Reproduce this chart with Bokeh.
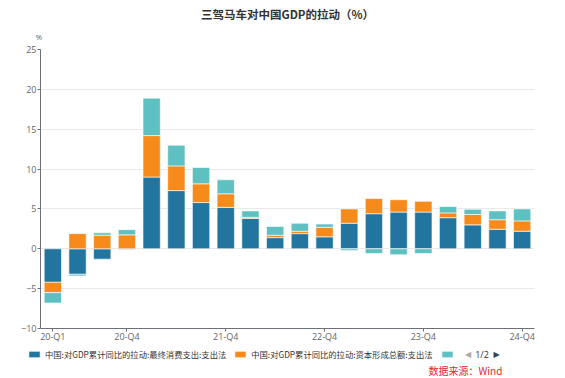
import numpy as np
from bokeh.plotting import figure
from bokeh.layouts import column
from bokeh.models import (Range1d, FixedTicker, Legend, LegendItem, Title, Label)
from bokeh.embed import file_html
from bokeh.resources import INLINE

quarters = ["20-Q1", "20-Q2", "20-Q3", "20-Q4",
            "21-Q1", "21-Q2", "21-Q3", "21-Q4",
            "22-Q1", "22-Q2", "22-Q3", "22-Q4",
            "23-Q1", "23-Q2", "23-Q3", "23-Q4",
            "24-Q1", "24-Q2", "24-Q3", "24-Q4"]
consumption = [-4.2, -3.2, -1.3, -0.1, 9.0, 7.3, 5.8, 5.2, 3.8, 1.4,
               1.9, 1.5, 3.2, 4.4, 4.6, 4.6, 3.9, 3.0, 2.45, 2.2]
capital = [-1.3, 1.9, 1.7, 1.75, 5.2, 3.1, 2.35, 1.7, 0.15, 0.3,
           0.3, 1.2, 1.8, 1.9, 1.55, 1.35, 0.6, 1.3, 1.2, 1.3]
net_exports = [-1.3, -0.2, 0.3, 0.65, 4.7, 2.6, 2.05, 1.75, 0.8, 1.1,
               1.0, 0.4, -0.2, -0.6, -0.75, -0.6, 0.8, 0.65, 1.1, 1.5]
series_names = ["中国:对GDP累计同比的拉动:最终消费支出:支出法",
                "中国:对GDP累计同比的拉动:资本形成总额:支出法",
                " "]
tick_labels = ["20-Q1", "20-Q4", "21-Q4", "22-Q4", "23-Q4", "24-Q4"]
y_ticks = [-10, -5, 0, 5, 10, 15, 20, 25]
colors = ["#22759f", "#f68a1a", "#5ec0c0"]
title_text = "三驾马车对中国GDP的拉动（%）"
unit_text = "%"
source_text = "数据来源：Wind"
pager_text = ["◀", "1/2", "▶"]

CJK = "Noto Sans CJK SC"
W = 565
MAIN_H = 345
LEG_H = 33

p = figure(width=W, height=MAIN_H, output_backend="svg", toolbar_location=None,
           x_range=Range1d(-0.5, len(quarters) - 0.5), y_range=Range1d(-10, 25),
           min_border_left=40, min_border_right=31, min_border_top=49,
           min_border_bottom=16)
p.frame_align = False
p.outline_line_color = None
p.background_fill_color = "white"
p.border_fill_color = "white"

x = np.arange(len(quarters))
pos_base = np.zeros(len(quarters))
neg_base = np.zeros(len(quarters))
for vals, col in zip([consumption, capital, net_exports], colors):
    v = np.array(vals, dtype=float)
    bottom = np.where(v >= 0, pos_base, neg_base)
    top = bottom + v
    pos_base = np.where(v >= 0, top, pos_base)
    neg_base = np.where(v < 0, top, neg_base)
    p.vbar(x=x, bottom=bottom, top=top, width=0.7, fill_color=col,
           line_color="white", line_alpha=0.6, line_width=1)

# axes
p.xaxis.ticker = FixedTicker(ticks=[quarters.index(t) for t in tick_labels])
p.xaxis.major_label_overrides = {quarters.index(t): t for t in tick_labels}
p.xaxis.minor_tick_line_color = None
p.xaxis.axis_line_color = "#6e7079"
p.xaxis.major_tick_line_color = "#6e7079"
p.xaxis.major_tick_in = 0
p.xaxis.major_tick_out = 3
p.xaxis.major_label_standoff = -2
p.xaxis.major_label_text_font_size = "9px"
p.xaxis.major_label_text_color = "#666666"
p.xaxis.major_label_text_font = "Open Sans"

p.yaxis.ticker = FixedTicker(ticks=y_ticks)
p.yaxis.minor_tick_line_color = None
p.yaxis.axis_line_color = "#6e7079"
p.yaxis.major_tick_line_color = "#6e7079"
p.yaxis.major_tick_in = 0
p.yaxis.major_tick_out = 3
p.yaxis.major_label_standoff = 1
p.yaxis.major_label_text_font_size = "9px"
p.yaxis.major_label_text_color = "#666666"
p.yaxis.major_label_text_font = "Open Sans"

p.xgrid.grid_line_color = None
p.ygrid.grid_line_color = "#e9e9e9"
p.ygrid.ticker = FixedTicker(ticks=y_ticks)

# main title (outer) and unit (next to the frame)
p.title.text = title_text
p.title.align = "center"
p.title.offset = -4
p.title.standoff = -2
p.title.text_font = CJK
p.title.text_font_size = "11.5px"
p.title.text_font_style = "bold"
p.title.text_color = "#333333"

p.add_layout(Title(text=unit_text, align="left", offset=-5, standoff=16,
                   text_font="Open Sans", text_font_size="8px",
                   text_font_style="normal", text_color="#666666"), "above")

# legend strip below the chart
q = figure(width=W, height=LEG_H, output_backend="svg", toolbar_location=None,
           x_axis_type=None, y_axis_type=None, min_border=0,
           x_range=Range1d(0, 1), y_range=Range1d(0, 1))
q.frame_align = False
q.outline_line_color = None
q.background_fill_color = "white"
q.border_fill_color = "white"
leg_renderers = [q.vbar(x=[np.nan], top=[np.nan], width=0.5, fill_color=c,
                        line_color="white", line_alpha=0.6) for c in colors]
items = [LegendItem(label=n, renderers=[r]) for n, r in zip(series_names, leg_renderers)]
legend = Legend(items=items, orientation="horizontal", location=(27, 18),
                glyph_width=14, glyph_height=8, label_standoff=4, spacing=7,
                padding=0, margin=0, border_line_color=None,
                background_fill_alpha=0, label_text_font=CJK,
                label_text_font_size="8.3px", label_text_color="#333333",
                label_height=10)
q.add_layout(legend, "center")

for txt, xs, col in zip(pager_text, [467.5, 481.5, 496], ["#aaaaaa", "#333333", "#2f4554"]):
    q.add_layout(Label(x=xs, y=LEG_H - 9, x_units="screen", y_units="screen",
                       text=txt, text_align="center", text_baseline="middle",
                       text_font="DejaVu Sans" if txt != "1/2" else "Open Sans",
                       text_font_size="8px" if txt != "1/2" else "9px",
                       text_color=col))

q.add_layout(Label(x=428, y=LEG_H - 25, x_units="screen", y_units="screen",
                   text=source_text, text_align="left", text_baseline="middle",
                   text_font=CJK, text_font_size="10px", text_color="#e3262c"))

layout = column(p, q, spacing=0)
open("out.html", "w").write(file_html(layout, INLINE))
